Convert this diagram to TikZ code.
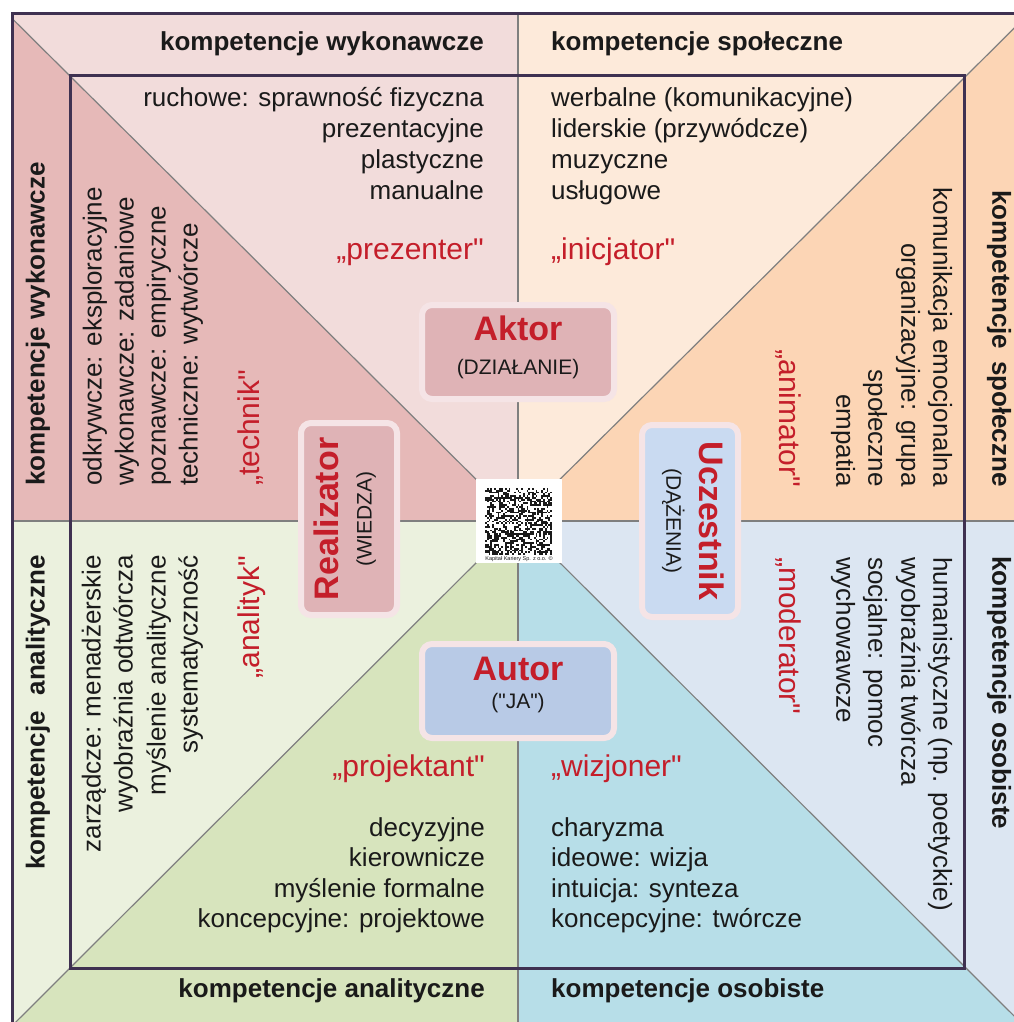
\documentclass[tikz,border=0pt]{standalone}
\usepackage{fontspec}
\setmainfont{Liberation Sans}[Ligatures=TeXOff]
\usetikzlibrary{calc}

% sector colours
\definecolor{pinkL}{HTML}{F2DCDB}
\definecolor{pinkD}{HTML}{E6B9B8}
\definecolor{peachL}{HTML}{FDEADA}
\definecolor{peachD}{HTML}{FCD5B5}
\definecolor{blueL}{HTML}{DCE6F2}
\definecolor{blueD}{HTML}{B7DEE8}
\definecolor{greenL}{HTML}{EBF1DE}
\definecolor{greenD}{HTML}{D7E4BD}
% lines, text and cards
\definecolor{framec}{HTML}{3F3151}
\definecolor{lineg}{HTML}{7F7F7F}
\definecolor{ink}{HTML}{1A1A1A}
\definecolor{redc}{HTML}{C41E2A}
\definecolor{halo}{HTML}{F5E4E6}
\definecolor{cardpink}{HTML}{DFB3B6}
\definecolor{cardsky}{HTML}{C9DAF1}
\definecolor{cardblue}{HTML}{B8CAE6}

\begin{document}
\begin{tikzpicture}[x=1pt,y=-1pt,
  thinline/.style={draw=lineg, line width=1.2pt},
  frame/.style={draw=framec, line width=3pt},
  txt/.style={inner sep=0pt, text=ink, font=\fontsize{26}{31}\selectfont},
  role/.style={inner sep=0pt, text=redc, font=\fontsize{30}{36}\selectfont},
  band/.style={inner sep=0pt, text=ink, font=\bfseries\fontsize{26}{31}\selectfont},
  card/.style={rectangle, rounded corners=10pt, draw=halo, line width=6pt, inner sep=0pt},
  cardh/.style={card, minimum width=192pt, minimum height=94pt},
  cardv/.style={card, minimum width=96pt, minimum height=192pt},
  cardtitle/.style={inner sep=0pt, text=redc, font=\bfseries\fontsize{34}{40}\selectfont},
  cardsub/.style={inner sep=0pt, text=ink, font=\fontsize{21}{25}\selectfont},
]
\useasboundingbox (0,0) rectangle (1013,1022);
\fill[white] (0,0) rectangle (1013,1022);

% centre and far points of the eight sectors
\coordinate (C) at (518,521);
\coordinate (ETL) at (-378,-369);
\coordinate (ETR) at (1414,-369);
\coordinate (EBR) at (1414,1415);
\coordinate (EBL) at (-378,1415);
\coordinate (T) at (518,-369);
\coordinate (R) at (1414,521);
\coordinate (B) at (518,1415);
\coordinate (L) at (-378,521);

\begin{scope}
  \clip (12,14) rectangle (1030,1040);
  \fill[pinkL]  (C) -- (ETL) -- (T) -- cycle;
  \fill[peachL] (C) -- (T) -- (ETR) -- cycle;
  \fill[peachD] (C) -- (ETR) -- (R) -- cycle;
  \fill[blueL]  (C) -- (R) -- (EBR) -- cycle;
  \fill[blueD]  (C) -- (EBR) -- (B) -- cycle;
  \fill[greenD] (C) -- (B) -- (EBL) -- cycle;
  \fill[greenL] (C) -- (EBL) -- (L) -- cycle;
  \fill[pinkD]  (C) -- (L) -- (ETL) -- cycle;
  % dividing lines
  \draw[thinline] (C) -- (T);
  \draw[thinline] (C) -- (B);
  \draw[thinline] (C) -- (L);
  \draw[thinline] (C) -- (R);
  \draw[thinline] (C) -- (ETL);
  \draw[thinline] (C) -- (ETR);
  \draw[thinline] (C) -- (EBR);
  \draw[thinline] (C) -- (EBL);
\end{scope}

% frames
\draw[frame] (12,1040) -- (12,14) -- (1040,14);
\draw[frame] (70,76) rectangle (964,968);

% code square in the middle
\fill[white] (476,479) rectangle (562,563);
\pgfmathsetseed{4242}
\foreach \i in {0,...,36} {
  \foreach \j in {0,...,36} {
    \pgfmathtruncatemacro\bit{2*rnd}
    \ifnum\bit=1
      \fill[ink] ({485+\i*1.81},{488+\j*1.81}) rectangle ++(1.81,1.81);
    \fi
  }
}
\node[inner sep=0pt, text=ink, font=\fontsize{5.5}{6}\selectfont] (qrcap) at (519,559) {Kapitał Kariery Sp. z o.o. ©};

% cards
\node[cardh, fill=cardpink] (aktor) at (518,352) {};
\node[cardh, fill=cardblue] (autor) at (518,691) {};
\node[cardv, fill=cardpink] (realizator) at (349,519) {};
\node[cardv, fill=cardsky] (uczestnik) at (690,521) {};

\node[cardtitle, anchor=mid] (aktorT) at (518,338) {Aktor};
\node[cardsub, anchor=mid] (aktorS) at (518,372) {(DZIAŁANIE)};
\node[cardtitle, anchor=mid] (autorT) at (518,678) {Autor};
\node[cardsub, anchor=mid] (autorS) at (518,706) {("JA")};
\node[cardtitle, anchor=mid, rotate=90] (realT) at (336,519) {Realizator};
\node[cardsub, anchor=mid, rotate=90] (realS) at (369,519) {(WIEDZA)};
\node[cardtitle, anchor=mid, rotate=-90] (uczT) at (702,521) {Uczestnik};
\node[cardsub, anchor=mid, rotate=-90] (uczS) at (669,521) {(DĄŻENIA)};

% outer band labels
\node[band, anchor=mid east] (bTL) at (484,48) {kompetencje wykonawcze};
\node[band, anchor=mid west] (bTR) at (551,48) {kompetencje społeczne};
\node[band, anchor=mid east] (bBL) at (485,995) {kompetencje analityczne};
\node[band, anchor=mid west] (bBR) at (551,995) {kompetencje osobiste};
\node[band, rotate=90, anchor=mid west] (bLT) at (42,486) {kompetencje wykonawcze};
\node[band, rotate=90, anchor=mid east] (bLB) at (42,555) {kompetencje\hspace{0.6em}analityczne};
\node[band, rotate=-90, anchor=mid east] (bRT) at (995,487) {kompetencje\hspace{0.45em}społeczne};
\node[band, rotate=-90, anchor=mid west] (bRB) at (995,556) {kompetencje osobiste};

% upper left: top triangle
\node[txt, anchor=mid east] (tl1) at (484,104) {ruchowe: sprawność fizyczna};
\node[txt, anchor=mid east] (tl2) at (484,135) {prezentacyjne};
\node[txt, anchor=mid east] (tl3) at (484,166) {plastyczne};
\node[txt, anchor=mid east] (tl4) at (484,197) {manualne};
\node[role, anchor=mid east] (tlr) at (484,257) {„prezenter"};

% upper right: top triangle
\node[txt, anchor=mid west] (tr1) at (551,104) {werbalne (komunikacyjne)};
\node[txt, anchor=mid west] (tr2) at (551,135) {liderskie (przywódcze)};
\node[txt, anchor=mid west] (tr3) at (551,166) {muzyczne};
\node[txt, anchor=mid west] (tr4) at (551,197) {usługowe};
\node[role, anchor=mid west] (trr) at (551,257) {„inicjator"};

% upper left: left triangle
\node[txt, rotate=90, anchor=mid west] (lt1) at (99,486) {odkrywcze: eksploracyjne};
\node[txt, rotate=90, anchor=mid west] (lt2) at (131,486) {wykonawcze: zadaniowe};
\node[txt, rotate=90, anchor=mid west] (lt3) at (163,486) {poznawcze: empiryczne};
\node[txt, rotate=90, anchor=mid west] (lt4) at (195,486) {techniczne: wytwórcze};
\node[role, rotate=90, anchor=mid west] (ltr) at (257,486) {„technik"};

% lower left: left triangle
\node[txt, rotate=90, anchor=mid east] (lb1) at (98,555) {zarządcze: menadżerskie};
\node[txt, rotate=90, anchor=mid east] (lb2) at (130,555) {wyobraźnia odtwórcza};
\node[txt, rotate=90, anchor=mid east] (lb3) at (163,555) {myślenie analityczne};
\node[txt, rotate=90, anchor=mid east] (lb4) at (195,555) {systematyczność};
\node[role, rotate=90, anchor=mid east] (lbr) at (257,556) {„analityk"};

% upper right: right triangle
\node[txt, rotate=-90, anchor=mid east] (rt1) at (936,487) {komunikacja emocjonalna};
\node[txt, rotate=-90, anchor=mid east] (rt2) at (904,487) {organizacyjne: grupa};
\node[txt, rotate=-90, anchor=mid east] (rt3) at (871,487) {społeczne};
\node[txt, rotate=-90, anchor=mid east] (rt4) at (839,487) {empatia};
\node[role, rotate=-90, anchor=mid east] (rtr) at (782,487) {„animator"};

% lower right: right triangle
\node[txt, rotate=-90, anchor=mid west] (rb1) at (936,557) {humanistyczne (np. poetyckie)};
\node[txt, rotate=-90, anchor=mid west] (rb2) at (904,557) {wyobraźnia twórcza};
\node[txt, rotate=-90, anchor=mid west] (rb3) at (871,557) {socjalne: pomoc};
\node[txt, rotate=-90, anchor=mid west] (rb4) at (839,557) {wychowawcze};
\node[role, rotate=-90, anchor=mid west] (rbr) at (782,557) {„moderator"};

% lower left: bottom triangle
\node[role, anchor=mid east] (blr) at (485,774) {„projektant"};
\node[txt, anchor=mid east] (bl1) at (485,834) {decyzyjne};
\node[txt, anchor=mid east] (bl2) at (485,864) {kierownicze};
\node[txt, anchor=mid east] (bl3) at (485,895) {myślenie formalne};
\node[txt, anchor=mid east] (bl4) at (485,925) {koncepcyjne: projektowe};

% lower right: bottom triangle
\node[role, anchor=mid west] (brr) at (551,774) {„wizjoner"};
\node[txt, anchor=mid west] (br1) at (551,834) {charyzma};
\node[txt, anchor=mid west] (br2) at (551,864) {ideowe: wizja};
\node[txt, anchor=mid west] (br3) at (551,895) {intuicja: synteza};
\node[txt, anchor=mid west] (br4) at (551,925) {koncepcyjne: twórcze};
\end{tikzpicture}
\end{document}
